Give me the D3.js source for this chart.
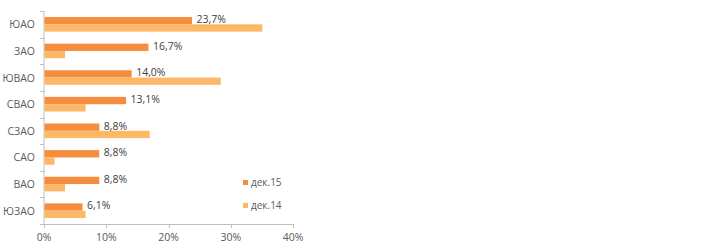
<!DOCTYPE html>
<html>
<head>
<meta charset="utf-8">
<script src="https://cdn.jsdelivr.net/npm/d3@7"></script>
<style>
  body { margin: 0; background: #fff; }
  svg text { font-family: "Open Sans", "DejaVu Sans", sans-serif; }
</style>
</head>
<body>
<svg id="chart" width="720" height="250"></svg>
<script>
// districts, top to bottom
var districts = ["ЮАО", "ЗАО", "ЮВАО", "СВАО", "СЗАО", "САО", "ВАО", "ЮЗАО"];
var dec15 = [23.7, 16.7, 14.0, 13.1, 8.8, 8.8, 8.8, 6.1];
var dec14 = [35.0, 3.3, 28.3, 6.6, 16.9, 1.6, 3.3, 6.6];
var seriesNames = ["дек.15", "дек.14"];
var xTicks = [0, 10, 20, 30, 40];

var colors = ["#f68c3e", "#fcb866"];

var svg = d3.select("#chart");

var x = d3.scaleLinear().domain([0, 40]).range([44, 293]);
var y = d3.scaleBand().domain(districts).range([11, 224]);

// axes lines
var axisColor = "#bfbfbf";
svg.append("line")
  .attr("x1", x(0)).attr("x2", x(0))
  .attr("y1", 11).attr("y2", 224)
  .attr("stroke", axisColor);
svg.append("line")
  .attr("x1", x(0)).attr("x2", x(40))
  .attr("y1", 224.5).attr("y2", 224.5)
  .attr("stroke", axisColor);

// y ticks at band edges
var edges = districts.map(function(d){ return y(d); }).concat([224]);
svg.selectAll(".ytick").data(edges).enter().append("line")
  .attr("x1", x(0) - 4).attr("x2", x(0))
  .attr("y1", function(d){ return Math.round(d) + 0.5; })
  .attr("y2", function(d){ return Math.round(d) + 0.5; })
  .attr("stroke", axisColor);

// x ticks and labels
svg.selectAll(".xtick").data(xTicks).enter().append("line")
  .attr("x1", function(d){ return Math.round(x(d)) + 0.5; })
  .attr("x2", function(d){ return Math.round(x(d)) + 0.5; })
  .attr("y1", 224).attr("y2", 228)
  .attr("stroke", axisColor);
svg.selectAll(".xlabel").data(xTicks).enter().append("text")
  .attr("x", function(d){ return x(d); })
  .attr("y", 241)
  .attr("text-anchor", "middle")
  .attr("font-size", 10.5)
  .attr("fill", "#595959")
  .text(function(d){ return d + "%"; });

// category labels
svg.selectAll(".cat").data(districts).enter().append("text")
  .attr("x", 35)
  .attr("y", function(d){ return y(d) + y.bandwidth() / 2 + 4; })
  .attr("text-anchor", "end")
  .attr("font-size", 10.5)
  .attr("fill", "#595959")
  .text(function(d){ return d; });

// bars
var barH = 7.3;
var barTop = function(i){ return y(districts[i]) + y.bandwidth() / 2 - barH; };

svg.selectAll(".b15").data(dec15).enter().append("rect")
  .attr("x", x(0) + 0.5)
  .attr("y", function(d, i){ return barTop(i); })
  .attr("width", function(d){ return x(d) - x(0); })
  .attr("height", barH)
  .attr("fill", colors[0]);

svg.selectAll(".b14").data(dec14).enter().append("rect")
  .attr("x", x(0) + 0.5)
  .attr("y", function(d, i){ return barTop(i) + barH; })
  .attr("width", function(d){ return x(d) - x(0); })
  .attr("height", barH)
  .attr("fill", colors[1]);

// value labels for dec 15
svg.selectAll(".val").data(dec15).enter().append("text")
  .attr("x", function(d){ return x(d) + 5; })
  .attr("y", function(d, i){ return barTop(i) + 6; })
  .attr("font-size", 10.5)
  .attr("fill", "#404040")
  .text(function(d){ return d.toFixed(1).replace(".", ",") + "%"; });

// legend
var legend = svg.selectAll(".leg").data(seriesNames).enter().append("g")
  .attr("transform", function(d, i){ return "translate(243," + (180 + i * 23) + ")"; });
legend.append("rect")
  .attr("width", 5).attr("height", 5)
  .attr("fill", function(d, i){ return colors[i]; });
legend.append("text")
  .attr("x", 8).attr("y", 5.5)
  .attr("font-size", 10)
  .attr("fill", "#595959")
  .text(function(d){ return d; });
</script>
</body>
</html>
